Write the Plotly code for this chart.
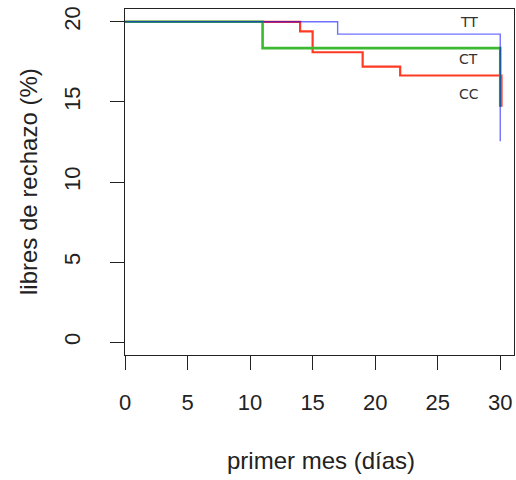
import plotly.graph_objects as go

# Kaplan-Meier style step data
days_TT = [0, 17, 30, 30]
surv_TT = [20, 19.23, 19.23, 12.55]

days_CT = [0, 11, 30, 30]
surv_CT = [20, 18.36, 18.36, 14.7]

days_CC = [0, 14, 15, 19, 22, 30.1, 30.1]
surv_CC = [20, 19.4, 18.1, 17.2, 16.65, 16.65, 14.7]

labels = ["TT", "CT", "CC"]
label_x = [27.5, 27.5, 27.5]
label_y = [20.0, 17.67, 15.48]

x_ticks = [0, 5, 10, 15, 20, 25, 30]
y_ticks = [0, 5, 10, 15, 20]

fig = go.Figure()
fig.add_trace(go.Scatter(x=days_CC, y=surv_CC, mode="lines", line_shape="hv",
                         line=dict(color="#ff3a22", width=2.2), showlegend=False))
fig.add_trace(go.Scatter(x=days_CT, y=surv_CT, mode="lines", line_shape="hv",
                         line=dict(color="#3cb832", width=2.6), showlegend=False))
fig.add_trace(go.Scatter(x=days_TT, y=surv_TT, mode="lines", line_shape="hv",
                         line=dict(color="rgba(0,0,255,0.56)", width=1.4), showlegend=False))

for t, lx, ly in zip(labels, label_x, label_y):
    fig.add_annotation(x=lx, y=ly, text=t, showarrow=False,
                       font=dict(family="DejaVu Sans", size=14, color="#333333"))

W, H = 516, 480
ML, MR, MT, MB = 125, 2, 9, 125
PW, PH = W - ML - MR, H - MT - MB

fig.add_annotation(xref="paper", yref="paper", x=(321 - ML) / PW, y=(H - MB - 461) / PH,
                   xanchor="center", yanchor="middle",
                   text="primer mes (días)", showarrow=False,
                   font=dict(family="Liberation Sans", size=24, color="#222222"))
fig.add_annotation(xref="paper", yref="paper", x=(28 - ML) / PW, y=0.5,
                   xanchor="center", yanchor="middle",
                   text="libres de rechazo (%)", showarrow=False, textangle=-90,
                   font=dict(family="Liberation Sans", size=24, color="#222222"))

axis_common = dict(showgrid=False, zeroline=False, showline=True, linecolor="#222222",
                   linewidth=1.2, mirror=True, ticks="outside", ticklen=14, tickwidth=1.2,
                   tickcolor="#222222", automargin=False,
                   tickfont=dict(family="Liberation Sans", size=22, color="#222222"))

fig.update_layout(
    width=W, height=H,
    margin=dict(l=ML, r=MR, t=MT, b=MB),
    plot_bgcolor="white", paper_bgcolor="white",
    xaxis=dict(range=[0, 31.1], tickvals=x_ticks, ticklabelstandoff=13, **axis_common),
    yaxis=dict(range=[-0.8, 20.8], tickvals=y_ticks, tickangle=-90, ticklabelstandoff=21,
               **axis_common),
)

fig.write_html("out.html", config={"displayModeBar": False},
               post_script="document.body.style.margin='0';document.body.style.overflow='hidden';")
